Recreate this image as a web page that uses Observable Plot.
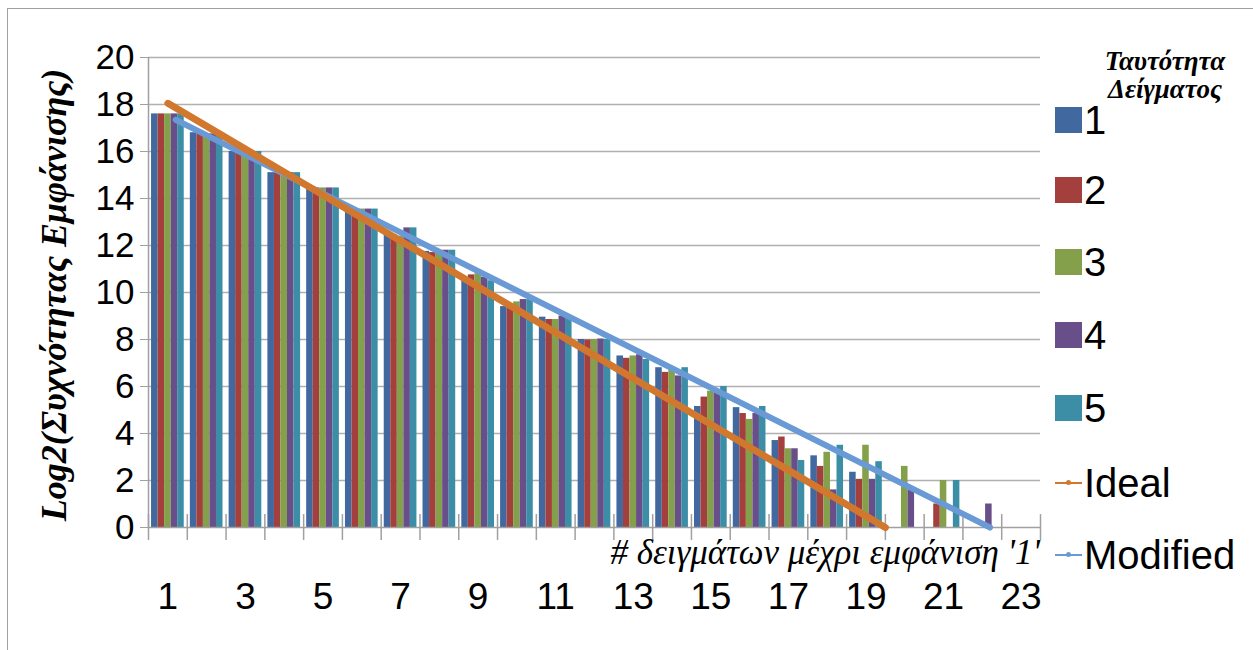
<!DOCTYPE html>
<html><head><meta charset="utf-8">
<script src="https://cdn.jsdelivr.net/npm/d3@7"></script>
<script src="https://cdn.jsdelivr.net/npm/@observablehq/plot@0.6"></script>
<style>
body{margin:0;background:#fff;}
#wrap{position:relative;width:1253px;height:650px;overflow:hidden;font-family:"Liberation Sans",Arial,sans-serif;background:#fff;}
#frame{position:absolute;left:7px;top:8px;width:1300px;height:700px;border-left:1.5px solid #a0a0a0;border-top:1.5px solid #a0a0a0;}
#chart{position:absolute;left:0;top:0;}
.ytitle{position:absolute;left:54px;top:295px;transform:translate(-50%,-50%) rotate(-90deg);white-space:nowrap;font-family:"Liberation Serif",serif;font-style:italic;font-weight:bold;font-size:36px;color:#000;}
.xtitle{position:absolute;right:213px;top:553px;transform:translateY(-50%);white-space:nowrap;font-family:"Liberation Serif",serif;font-style:italic;font-size:35px;color:#000;}
.ltitle{position:absolute;left:1165px;top:75px;transform:translate(-50%,-50%);text-align:center;font-family:"Liberation Serif",serif;font-style:italic;font-weight:bold;font-size:27px;line-height:28px;color:#000;white-space:nowrap;}
.litem{position:absolute;left:1055px;height:44px;display:flex;align-items:center;font-size:40px;color:#000;transform:translateY(-50%);}
.sw{width:27px;height:26px;margin-right:2px;}
.ln{width:27px;height:2px;margin-right:2px;position:relative;}
.ln i{position:absolute;left:11px;top:-2px;width:5px;height:5px;border-radius:50%;}
</style></head><body>
<div id="wrap"><div id="frame"></div><div id="chart"></div></div>
<script>
const categories = [1,2,3,4,5,6,7,8,9,10,11,12,13,14,15,16,17,18,19,20,21,22,23];
const seriesNames = ["1","2","3","4","5"];
const seriesColors = ["#4169A0","#A3403D","#84A04A","#694F8A","#3C8EA6"];
const s1 = [17.6,16.8,16.0,15.1,14.45,13.55,12.55,11.75,10.5,9.4,8.95,8.0,7.3,6.8,5.15,5.1,3.7,3.05,2.35,0,0,0,0];
const s2 = [17.6,16.8,16.0,15.1,14.45,13.55,12.45,11.7,10.75,9.35,8.85,7.98,7.2,6.6,5.55,4.85,3.85,2.6,2.05,0,1.0,0,0];
const s3 = [17.6,16.75,15.95,14.95,14.45,13.55,12.4,11.7,10.8,9.6,8.85,8.0,7.3,6.7,5.8,4.6,3.35,3.2,3.5,2.6,2.0,0,0];
const s4 = [17.6,16.75,15.95,15.1,14.45,13.55,12.75,11.8,10.65,9.7,9.0,8.02,7.35,6.45,5.75,4.85,3.35,1.6,2.05,1.6,0,1.0,0];
const s5 = [17.6,16.7,16.0,15.1,14.45,13.55,12.75,11.8,10.5,9.7,8.9,8.0,7.15,6.8,6.0,5.15,2.85,3.5,2.8,0,2.0,0,0];
const idealX = [1, 19.5];
const idealY = [18.05, 0];
const modifiedX = [1.2, 22.2];
const modifiedY = [17.35, 0];
const xTickLabels = [1,3,5,7,9,11,13,15,17,19,21,23];
const yTicks = [0,2,4,6,8,10,12,14,16,18,20];
const lineNames = ["Ideal","Modified"];
const lineColors = ["#D2782E","#6A9AD6"];
const legendTitle = ["Ταυτότητα","Δείγματος"];
const yTitle = "Log2(Συχνότητας Εμφάνισης)";
const xTitle = "# δειγμάτων μέχρι εμφάνιση '1'";

const allSeries = [s1,s2,s3,s4,s5];
const bars = [];
allSeries.forEach((vals, si) => vals.forEach((v, ci) => {
  if (v > 0) bars.push({cat: categories[ci], si, s: seriesNames[si], v});
}));
const group = 0.843, bw = group / 5;
const boundaries = [0.5, ...categories.map(c => c + 0.5)];
const ideal = idealX.map((x, i) => ({x, y: idealY[i]}));
const modified = modifiedX.map((x, i) => ({x, y: modifiedY[i]}));

const chart = Plot.plot({
  width: 1253, height: 650,
  marginLeft: 148, marginRight: 213, marginTop: 57, marginBottom: 123,
  style: {fontFamily: "'Liberation Sans', Arial, sans-serif", background: "transparent", overflow: "visible"},
  x: {domain: [0.5, 23.5], axis: null},
  y: {domain: [0, 20], axis: null},
  color: {domain: seriesNames, range: seriesColors},
  marks: [
    Plot.ruleY(yTicks.filter(d => d > 0), {x1: 0.5, x2: 23.5, stroke: "#b0b0b0", strokeWidth: 1.5}),
    Plot.rect(bars, {
      x1: d => d.cat - group / 2 + d.si * bw,
      x2: d => d.cat - group / 2 + (d.si + 1) * bw,
      y1: 0, y2: "v", fill: "s"
    }),
    Plot.ruleY([0], {x1: 0.5, x2: 23.5, stroke: "#a0a0a0", strokeWidth: 1.5}),
    Plot.ruleX([0.5], {y1: 0, y2: 20, stroke: "#a0a0a0", strokeWidth: 1.5}),
    Plot.ruleX(boundaries, {y1: -0.55, y2: 0.55, stroke: "#a0a0a0", strokeWidth: 1.5}),
    Plot.axisY({ticks: yTicks, label: null, tickSize: 8, tickPadding: 6, fontSize: 35, stroke: "#a0a0a0", color: "#000", tickFormat: d => String(d)}),
    Plot.axisX({ticks: xTickLabels, label: null, tickSize: 0, tickPadding: 55, fontSize: 37, color: "#000", tickFormat: d => String(d)}),
    Plot.line(modified, {x: "x", y: "y", stroke: lineColors[1], strokeWidth: 6, strokeLinecap: "round"}),
    Plot.line(ideal, {x: "x", y: "y", stroke: lineColors[0], strokeWidth: 7, strokeLinecap: "round"})
  ]
});
document.getElementById("chart").appendChild(chart);

const wrap = document.getElementById("wrap");
const yt = document.createElement("div"); yt.className = "ytitle"; yt.textContent = yTitle; wrap.appendChild(yt);
const xt = document.createElement("div"); xt.className = "xtitle"; xt.textContent = xTitle; wrap.appendChild(xt);
const lt = document.createElement("div"); lt.className = "ltitle"; lt.innerHTML = legendTitle.join("<br>"); wrap.appendChild(lt);
const legendY = [120, 190, 262, 335, 408, 483, 555];
seriesNames.forEach((n, i) => {
  const it = document.createElement("div"); it.className = "litem"; it.style.top = legendY[i] + "px";
  const sw = document.createElement("span"); sw.className = "sw"; sw.style.background = seriesColors[i];
  it.appendChild(sw); it.appendChild(document.createTextNode(n)); wrap.appendChild(it);
});
lineNames.forEach((n, i) => {
  const it = document.createElement("div"); it.className = "litem"; it.style.top = legendY[5 + i] + "px";
  const ln = document.createElement("span"); ln.className = "ln"; ln.style.background = lineColors[i];
  const dot = document.createElement("i"); dot.style.background = lineColors[i]; ln.appendChild(dot);
  it.appendChild(ln); it.appendChild(document.createTextNode(n)); wrap.appendChild(it);
});
</script>
</body></html>
